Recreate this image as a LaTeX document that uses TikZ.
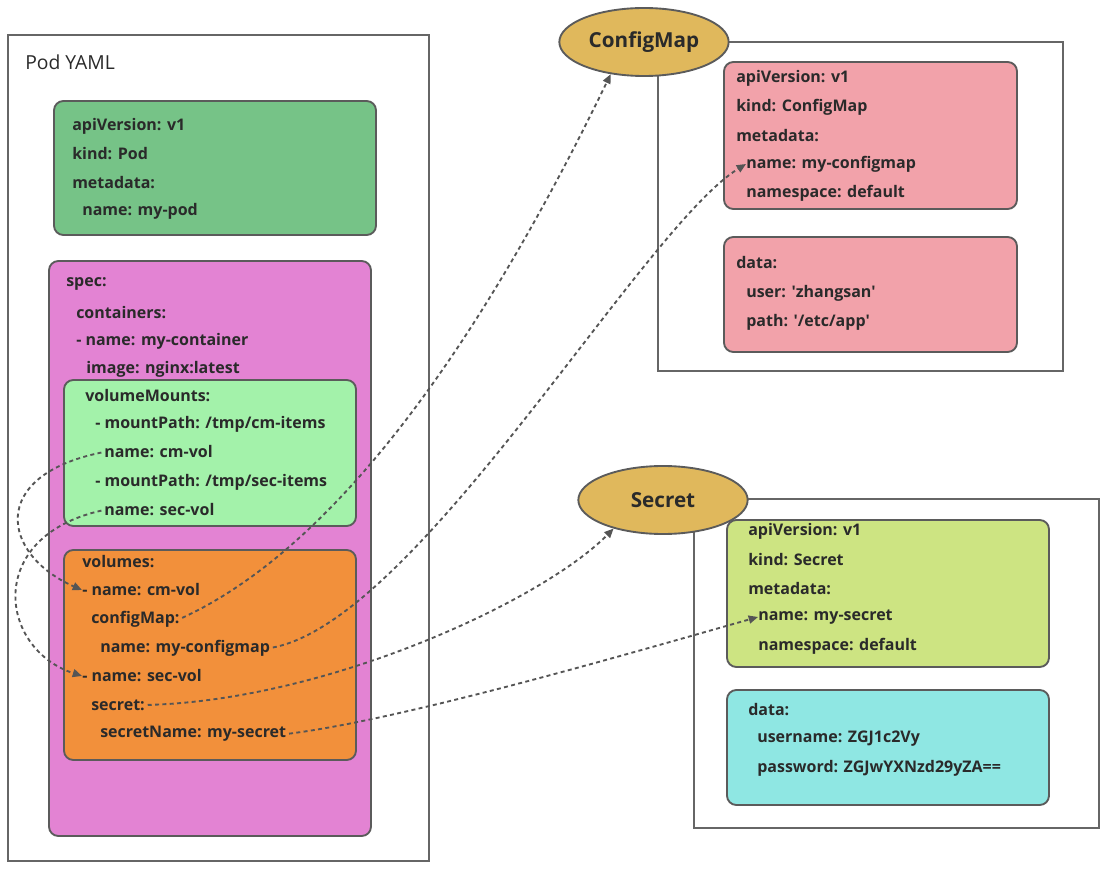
\documentclass[tikz,border=0pt]{standalone}
\usepackage{fontspec}
\setmainfont{Open Sans}
\usetikzlibrary{shapes.geometric,arrows.meta}
\definecolor{podgreen}{HTML}{76C387}
\definecolor{specpink}{HTML}{E383D3}
\definecolor{mountgreen}{HTML}{A3F2AA}
\definecolor{volorange}{HTML}{F2903B}
\definecolor{tagyellow}{HTML}{E0B85C}
\definecolor{cmpink}{HTML}{F2A2AA}
\definecolor{seclime}{HTML}{CDE482}
\definecolor{seccyan}{HTML}{8FE7E3}
\definecolor{edgegray}{HTML}{5B5B5B}
\definecolor{framegray}{HTML}{666666}
\definecolor{linkgray}{HTML}{555555}
\definecolor{txtgray}{HTML}{2A2A2A}
\begin{document}
\begin{tikzpicture}[x=0.75pt, y=-0.75pt,
    every node/.style={font=\bfseries\fontsize{12}{14}\selectfont, text=txtgray, inner sep=0pt},
    ln/.style={anchor=west},
    panel/.style={draw=edgegray, line width=1.4pt, rounded corners=7pt},
    frame/.style={draw=framegray, line width=1.4pt},
    tag/.style={ellipse, draw=edgegray, line width=1.4pt, fill=tagyellow, minimum width=127pt,
        minimum height=51pt, font=\bfseries\fontsize{15.5}{18}\selectfont},
    link/.style={draw=linkgray, line width=1.4pt, dash pattern=on 3pt off 2.5pt, shorten <=2pt,
        -{Triangle[length=7pt,width=6pt]}}]
\useasboundingbox (0,0) rectangle (1120,873);
% Pod YAML
\draw[frame] (8,35) rectangle (429,861);
\node[ln, font=\fontsize{14.5}{16}\selectfont] (podlabel) at (25,62) {Pod YAML};
\draw[panel, fill=podgreen] (54,101) rectangle (376,235);
\foreach \n/\x/\y/\t in {1/72/126/{apiVersion: v1}, 2/72/154/{kind: Pod}, 3/72/183/{metadata:},
    4/82/211/{name: my-pod}}
    \node[ln] (pod\n) at (\x,\y) {\t};
\draw[panel, fill=specpink] (49,261) rectangle (371,836);
\foreach \n/\x/\y/\t in {1/66/284/{spec:}, 2/76/313/{containers:}, 3/76/341/{- name: my-container},
    4/86/369/{image: nginx:latest}}
    \node[ln] (spec\n) at (\x,\y) {\t};
\draw[panel, fill=mountgreen] (64,380) rectangle (356,526);
\foreach \n/\x/\y/\t in {1/85/396/{volumeMounts:}, 2/95/424/{- mountPath: /tmp/cm-items},
    3/104/452/{name: cm-vol}, 4/95/482/{- mountPath: /tmp/sec-items}, 5/104/510/{name: sec-vol}}
    \node[ln] (vm\n) at (\x,\y) {\t};
\draw[panel, fill=volorange] (64,550) rectangle (356,760);
\foreach \n/\x/\y/\t in {1/82/562/{volumes:}, 2/82/590/{- name: cm-vol}, 3/91/619/{configMap:},
    4/100/648/{name: my-configmap}, 5/82/676/{- name: sec-vol}, 6/91/705/{secret:},
    7/100/734/{secretName: my-secret}}
    \node[ln] (vol\n) at (\x,\y) {\t};
% ConfigMap
\draw[frame] (658,42) rectangle (1063,371);
\node[tag] (cmap) at (644,42) {ConfigMap};
\draw[panel, fill=cmpink] (724,62) rectangle (1017,209);
\foreach \n/\x/\y/\t in {1/736/78/{apiVersion: v1}, 2/736/107/{kind: ConfigMap}, 3/736/136/{metadata:},
    4/746/164/{name: my-configmap}, 5/746/193/{namespace: default}}
    \node[ln] (cmm\n) at (\x,\y) {\t};
\draw[panel, fill=cmpink] (724,237) rectangle (1017,352);
\foreach \n/\x/\y/\t in {1/736/263/{data:}, 2/746/293/{user: \textquotesingle zhangsan\textquotesingle},
    3/746/322/{path: \textquotesingle/etc/app\textquotesingle}}
    \node[ln] (cmd\n) at (\x,\y) {\t};
% Secret
\draw[frame] (694,499) rectangle (1099,828);
\node[tag] (secret) at (663,500) {Secret};
\draw[panel, fill=seclime] (727,520) rectangle (1049,667);
\foreach \n/\x/\y/\t in {1/748/531/{apiVersion: v1}, 2/748/560/{kind: Secret}, 3/748/589/{metadata:},
    4/758/617/{name: my-secret}, 5/758/646/{namespace: default}}
    \node[ln] (secm\n) at (\x,\y) {\t};
\draw[panel, fill=seccyan] (727,690) rectangle (1049,805);
\foreach \n/\x/\y/\t in {1/748/710/{data:}, 2/757/739/{username: ZGJ1c2Vy},
    3/757/768/{password: ZGJwYXNzd29yZA==}}
    \node[ln] (secd\n) at (\x,\y) {\t};
% references
\draw[link] (vm3.west) .. controls +(-117,24) and +(-80,-35) .. (vol2.west);
\draw[link] (vm5.west) .. controls +(-120,27) and +(-83,-27) .. (vol5.west);
\draw[link] (vol3.east) .. controls +(174,-80) and +(-110,227) .. (cmap.224);
\draw[link] (vol4.east) .. controls +(148,-28) and +(-104,64) .. (cmm4.west);
\draw[link] (vol6.east) .. controls +(183,-5) and +(-71,72) .. (secret.210);
\draw[link] (vol7.east) .. controls +(120,-15) and +(-117,33) .. (secm4.west);
\end{tikzpicture}
\end{document}
